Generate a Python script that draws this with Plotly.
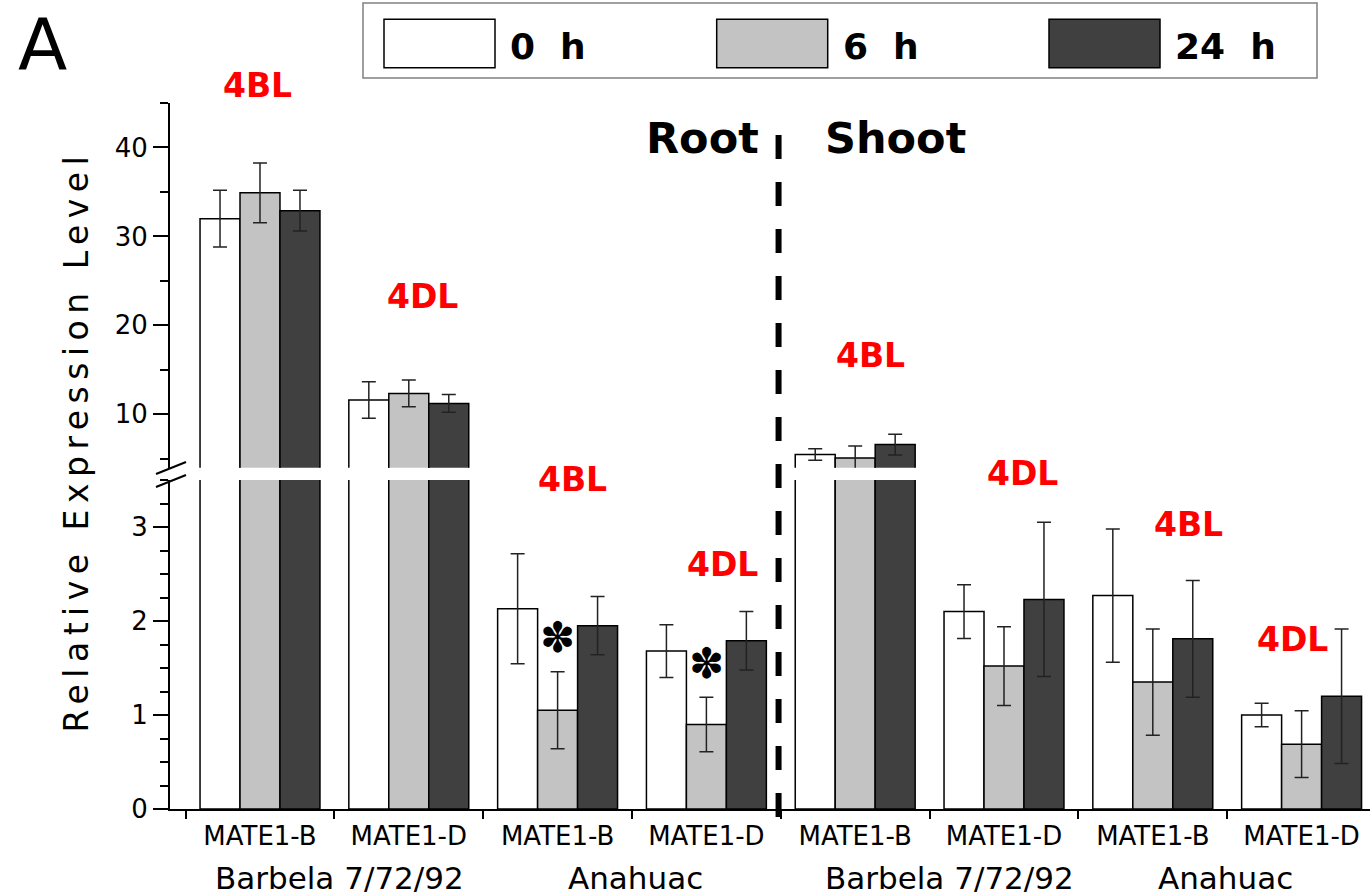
import plotly.graph_objects as go

# ---------------- data ----------------
genes = ["MATE1-B", "MATE1-D", "MATE1-B", "MATE1-D", "MATE1-B", "MATE1-D", "MATE1-B", "MATE1-D"]
cultivars = ["Barbela 7/72/92", "Anahuac", "Barbela 7/72/92", "Anahuac"]
chromosomes = ["4BL", "4DL", "4BL", "4DL", "4BL", "4DL", "4BL", "4DL"]
tissues = ["Root", "Shoot"]
series_names = ["0 h", "6 h", "24 h"]

h0 = [32.0, 11.6, 2.13, 1.68, 5.48, 2.10, 2.27, 1.00]
h0_err = [3.2, 2.05, 0.585, 0.28, 0.65, 0.285, 0.71, 0.125]
h6 = [34.9, 12.35, 1.05, 0.90, 5.1, 1.52, 1.35, 0.69]
h6_err = [3.35, 1.5, 0.41, 0.29, 1.34, 0.42, 0.565, 0.355]
h24 = [32.9, 11.23, 1.95, 1.79, 6.6, 2.23, 1.81, 1.20]
h24_err = [2.3, 1.0, 0.31, 0.31, 1.16, 0.82, 0.62, 0.715]
signif_6h = [False, False, True, True, False, False, False, False]

lower_ticks = [0, 1, 2, 3]
upper_ticks = [10, 20, 30, 40]

# ---------------- geometry ----------------
W, H = 1370, 896
ML, MR, MT, MB = 170, 0, 103, 87
PW, PH = W - ML - MR, H - MT - MB


def px_x(px):
    return (px - ML) / PW


def px_y(py):
    return (H - MB - py) / PH


cat_x = list(range(1, len(genes) + 1))
X_RANGE = [0.3952, 8.4597]
LOWER_DOM = [0, px_y(480)]
UPPER_DOM = [px_y(467.7), 1]

colors = ["#ffffff", "#c3c3c3", "#404040"]
values = [h0, h6, h24]
errors = [h0_err, h6_err, h24_err]

fig = go.Figure()
for ax_x, ax_y in (("x", "y"), ("x2", "y2")):
    for name, col, v, e in zip(series_names, colors, values, errors):
        fig.add_trace(go.Bar(
            x=cat_x, y=v, name=name, xaxis=ax_x, yaxis=ax_y,
            marker=dict(color=col, line=dict(color="black", width=1.5)),
            error_y=dict(type="data", array=e, visible=True, color="#222222",
                         thickness=1.5, width=7),
            showlegend=False,
        ))

BASE_FONT = "DejaVu Sans, Verdana, sans-serif"
axis_common = dict(showline=True, linecolor="black", linewidth=2, showgrid=False,
                   zeroline=False, tickcolor="black", tickwidth=2,
                   tickfont=dict(family=BASE_FONT, size=26, color="black"))

fig.update_layout(
    width=W, height=H,
    margin=dict(l=ML, r=MR, t=MT, b=MB),
    paper_bgcolor="white", plot_bgcolor="white",
    barmode="group", bargap=0.194, bargroupgap=0,
    xaxis=dict(range=X_RANGE, domain=[0, 1], anchor="y",
               tickmode="array", tickvals=cat_x, ticktext=genes, ticks="",
               showline=True, linecolor="black", linewidth=2, showgrid=False,
               zeroline=False, ticklabelstandoff=3,
               tickfont=dict(family=BASE_FONT, size=26, color="black"),
               minor=dict(tickmode="array", tickvals=[k + 0.5 for k in range(0, len(genes) + 1)],
                          ticks="outside", ticklen=8, tickwidth=2, tickcolor="black")),
    xaxis2=dict(range=X_RANGE, domain=[0, 1], anchor="y2", matches="x", visible=False),
    yaxis=dict(domain=LOWER_DOM, range=[0, 3.5], anchor="x",
               tickmode="array", tickvals=lower_ticks, ticks="outside", ticklen=15,
               minor=dict(tick0=0, dtick=0.25, ticks="outside", ticklen=8,
                          tickwidth=2, tickcolor="black"),
               **axis_common),
    yaxis2=dict(domain=UPPER_DOM, range=[4, 45], anchor="x2",
                tickmode="array", tickvals=upper_ticks, ticks="outside", ticklen=15,
                minor=dict(tick0=5, dtick=10, ticks="outside", ticklen=8,
                           tickwidth=2, tickcolor="black"),
                **axis_common),
)

annotations = []
shapes = []

# y-axis title
annotations.append(dict(
    xref="paper", yref="paper", x=px_x(76), y=px_y(441.5), textangle=-90,
    text='<span style="letter-spacing:6.5px">Relative Expression Level</span>',
    showarrow=False, xanchor="center", yanchor="middle",
    font=dict(family=BASE_FONT, size=33, color="black")))

# panel letter
annotations.append(dict(xref="paper", yref="paper", x=px_x(42.5), y=px_y(1), text="A",
                        showarrow=False, xanchor="center", yanchor="top", borderpad=0,
                        font=dict(family=BASE_FONT, size=72, color="black")))

# chromosome labels (red)
chrom_px = [(257, 85), (422, 296), (572, 480), (722, 564),
            (871, 355), (1022, 473), (1188, 524), (1292, 639)]
for lab, (cx, cy) in zip(chromosomes, chrom_px):
    annotations.append(dict(xref="paper", yref="paper", x=px_x(cx), y=px_y(cy), text=lab,
                            showarrow=False, xanchor="center", yanchor="middle",
                            font=dict(family="DejaVu Sans, sans-serif", size=33,
                                      color="#ff0000", weight="bold")))

# cultivar group labels
cult_px = [339.5, 635, 949.5, 1225]
for lab, cx in zip(cultivars, cult_px):
    annotations.append(dict(xref="paper", yref="paper", x=px_x(cx), y=px_y(878), text=lab,
                            showarrow=False, xanchor="center", yanchor="middle",
                            font=dict(family=BASE_FONT, size=31, color="black")))

# tissue labels
for lab, cx in zip(tissues, [702.5, 895.5]):
    annotations.append(dict(xref="paper", yref="paper", x=px_x(cx), y=px_y(138), text=lab,
                            showarrow=False, xanchor="center", yanchor="middle",
                            font=dict(family="DejaVu Sans, sans-serif", size=43,
                                      color="black", weight="bold")))

# significance asterisks above 6 h bars
for xi, v, e, s in zip(cat_x, h6, h6_err, signif_6h):
    if s:
        annotations.append(dict(xref="x", yref="y", x=xi, y=v + e + 0.36, text="\u273d",
                                showarrow=False, xanchor="center", yanchor="middle",
                                font=dict(family="DejaVu Sans, sans-serif", size=42,
                                          color="black")))

# root / shoot divider
shapes.append(dict(type="line", xref="x", yref="paper", x0=4.485, x1=4.485,
                   y0=px_y(817), y1=px_y(126),
                   line=dict(color="black", width=6, dash="24px,23px")))

# axis break marks
for y_off in (0, 13):
    shapes.append(dict(type="line", xref="paper", yref="paper",
                       x0=px_x(156), y0=px_y(474 + y_off), x1=px_x(186), y1=px_y(462 + y_off),
                       line=dict(color="black", width=2)))

# legend box
shapes.append(dict(type="rect", xref="paper", yref="paper",
                   x0=px_x(363), x1=px_x(1317), y0=px_y(78), y1=px_y(3),
                   line=dict(color="#808080", width=1.5), fillcolor="white", layer="above"))
leg_swatch_left = [384, 716.7, 1049]
for name, col, lx in zip(series_names, colors, leg_swatch_left):
    shapes.append(dict(type="rect", xref="paper", yref="paper",
                       x0=px_x(lx), x1=px_x(lx + 111), y0=px_y(67.7), y1=px_y(19.3),
                       line=dict(color="black", width=1.5), fillcolor=col, layer="above"))
    annotations.append(dict(xref="paper", yref="paper", x=px_x(lx + 124), y=px_y(46),
                            text=name.replace(" ", "\u00a0\u00a0"), showarrow=False,
                            xanchor="left", yanchor="middle",
                            font=dict(family="DejaVu Sans, sans-serif", size=36,
                                      color="black", weight="bold")))

fig.update_layout(annotations=annotations, shapes=shapes)
fig.write_html("out.html", config={"displayModeBar": False},
               post_script="document.body.style.margin='0';document.body.style.padding='0';"
                           "document.body.style.overflow='hidden';")
